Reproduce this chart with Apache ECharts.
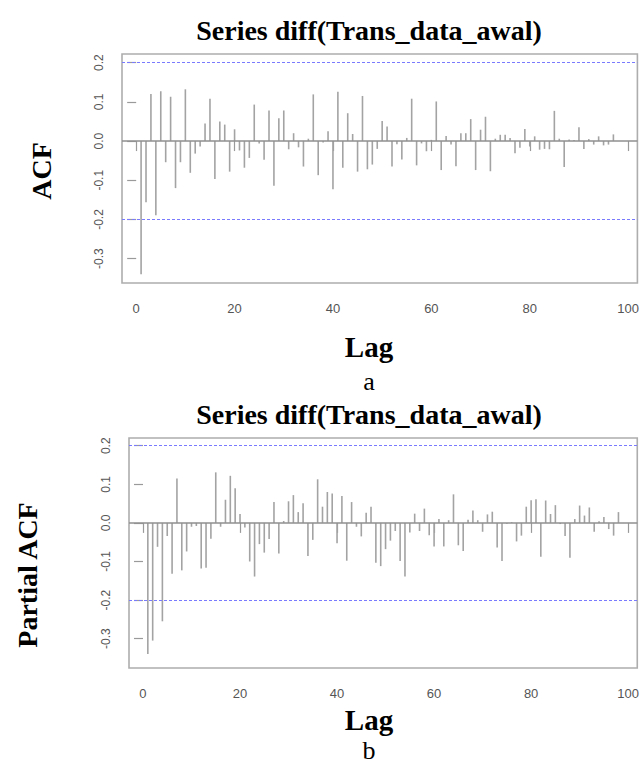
<!DOCTYPE html>
<html>
<head>
<meta charset="utf-8">
<script src="https://cdn.jsdelivr.net/npm/echarts@6/dist/echarts.min.js"></script>
<style>
html,body{margin:0;padding:0;background:#fff;}
#chart{width:642px;height:764px;}
</style>
</head>
<body>
<div id="chart"></div>
<script>
// ---- data ----
const chartTitle = 'Series diff(Trans_data_awal)';
const xTickValues = [0, 20, 40, 60, 80, 100];
const yTickValues = [-0.3, -0.2, -0.1, 0.0, 0.1, 0.2];
const confLimit = 0.2;

const acfValues = [
  -0.340, -0.156, 0.120, -0.189, 0.127, -0.054, 0.113, -0.120, -0.054, 0.132,
  -0.081, -0.032, -0.014, 0.045, 0.108, -0.097, 0.050, 0.042, -0.078, 0.030,
  -0.024, -0.068, -0.043, 0.093, -0.006, -0.048, 0.078, -0.114, 0.058, 0.078,
  -0.021, 0.020, -0.016, -0.065, 0.006, 0.119, -0.087, -0.004, 0.025, -0.123,
  0.126, -0.068, 0.071, 0.018, -0.078, 0.115, -0.072, -0.060, -0.020, 0.051,
  0.037, -0.065, -0.008, -0.047, 0.008, 0.108, -0.062, -0.006, -0.026, 0.003,
  0.101, -0.074, 0.013, -0.009, -0.064, 0.020, 0.020, 0.056, -0.074, 0.029,
  0.062, -0.077, 0.006, 0.016, 0.016, 0.008, -0.031, -0.017, 0.031, -0.014,
  0.012, -0.022, -0.020, -0.021, 0.077, 0.006, -0.066, 0.004, 0.003, 0.035,
  -0.020, 0.005, -0.009, 0.012, -0.011, -0.009, 0.017
];

const pacfValues = [
  -0.340, -0.305, -0.062, -0.255, -0.034, -0.132, 0.115, -0.123, -0.074, -0.010,
  -0.008, -0.118, -0.116, -0.041, 0.131, -0.010, 0.060, 0.122, 0.090, 0.023,
  -0.012, -0.100, -0.139, -0.055, -0.077, -0.042, 0.054, -0.079, 0.005, 0.056,
  0.072, 0.028, 0.051, -0.086, -0.044, 0.113, 0.042, 0.080, 0.076, -0.053,
  0.070, -0.098, 0.054, -0.010, -0.035, 0.026, 0.042, -0.103, -0.112, -0.068,
  -0.046, -0.021, -0.099, -0.139, -0.025, 0.024, -0.021, 0.037, -0.032, -0.061,
  0.010, -0.061, 0.007, 0.074, -0.058, -0.073, 0.008, 0.032, 0.007, -0.023,
  0.022, 0.029, -0.064, -0.099, -0.002, 0.002, -0.048, -0.033, 0.042, 0.059,
  0.061, -0.088, 0.058, 0.023, 0.046, -0.003, -0.034, -0.090, 0.010, 0.045,
  0.019, 0.040, -0.023, 0.004, 0.015, -0.016, -0.033, 0.028
];

// ---- chart ----
const toPairs = arr => arr.map((v, i) => [i + 1, v]);
const serif = '"Liberation Serif", "Times New Roman", serif';
const sans = '"Liberation Sans", Arial, sans-serif';
const boxColor = '#adadad';
const tickColor = '#9a9a9a';
const labelColor = '#555555';
const confColor = '#7a7aff';

function xAxisCfg(gi) {
  return {
    type: 'value', gridIndex: gi, min: -2.88, max: 101.88,
    axisLine: { show: false },
    splitLine: { show: false },
    axisTick: { show: true, inside: false, length: 10, customValues: xTickValues,
      lineStyle: { color: tickColor, width: 1.2 } },
    axisLabel: { show: true, customValues: xTickValues, margin: 19,
      color: labelColor, fontFamily: sans, fontSize: 13 }
  };
}
function yAxisCfg(gi, min, max) {
  return {
    type: 'value', gridIndex: gi, min: min, max: max,
    axisLine: { show: false },
    splitLine: { show: false },
    axisTick: { show: true, inside: false, length: 9, customValues: yTickValues,
      lineStyle: { color: tickColor, width: 1.2 } },
    axisLabel: { show: true, customValues: yTickValues, rotate: 90, margin: 17,
      color: labelColor, fontFamily: sans, fontSize: 12,
      formatter: v => Number(v).toFixed(1) }
  };
}
function barSeries(gi, data) {
  return {
    type: 'bar', xAxisIndex: gi, yAxisIndex: gi,
    data: toPairs(data), barWidth: 1.6, animation: false,
    itemStyle: { color: '#a3a3a3' },
    markLine: {
      silent: true, symbol: 'none', animation: false,
      label: { show: false },
      lineStyle: { color: '#8f8f8f', width: 1.5, type: 'solid' },
      data: [{ yAxis: 0 }]
    }
  };
}
function confSeries(gi) {
  return {
    type: 'line', xAxisIndex: gi, yAxisIndex: gi, data: [], animation: false,
    markLine: {
      silent: true, symbol: 'none', animation: false,
      label: { show: false },
      lineStyle: { color: confColor, width: 1, type: [3, 2] },
      emphasis: { disabled: true },
      data: [{ yAxis: confLimit }, { yAxis: -confLimit }]
    }
  };
}
function txt(str, x, y, size, bold, rot) {
  return {
    type: 'text', x: x, y: y, rotation: rot || 0, silent: true,
    style: { text: str, fill: '#000', font: (bold ? 'bold ' : '') + size + 'px ' + serif,
      textAlign: 'center', textVerticalAlign: 'middle', verticalAlign: 'middle', align: 'center' }
  };
}

const chart = echarts.init(document.getElementById('chart'), null, { renderer: 'svg' });
chart.setOption({
  backgroundColor: '#ffffff',
  animation: false,
  grid: [
    { left: 122, top: 54, width: 517, height: 229, show: true, borderColor: boxColor, borderWidth: 1.6, backgroundColor: 'transparent' },
    { left: 129, top: 438, width: 510, height: 230, show: true, borderColor: boxColor, borderWidth: 1.6, backgroundColor: 'transparent' }
  ],
  xAxis: [xAxisCfg(0), xAxisCfg(1)],
  yAxis: [yAxisCfg(0, -0.362, 0.222), yAxisCfg(1, -0.376, 0.220)],
  series: [confSeries(0), confSeries(1), barSeries(0, acfValues), barSeries(1, pacfValues)],
  graphic: [
    txt(chartTitle, 369, 30, 28, true),
    txt('ACF', 41, 171, 28, true, Math.PI / 2),
    txt('Lag', 369, 347, 29, true),
    txt('a', 369, 381, 26, false),
    txt(chartTitle, 369, 414, 28, true),
    txt('Partial ACF', 27, 575, 28, true, Math.PI / 2),
    txt('Lag', 369, 720, 29, true),
    txt('b', 369, 750, 26, false)
  ]
});
</script>
</body>
</html>
